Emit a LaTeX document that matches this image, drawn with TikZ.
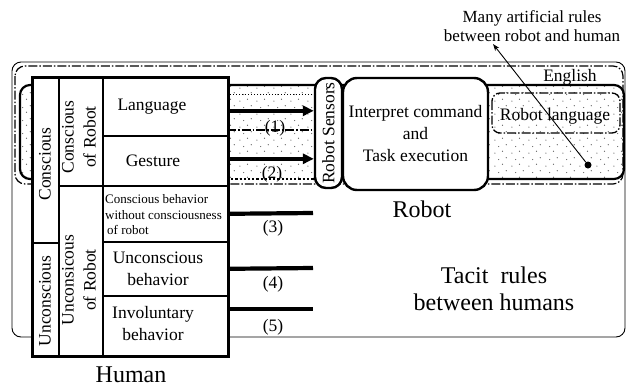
\documentclass[tikz,border=0pt]{standalone}
\usepackage{fontspec}
\setmainfont{Liberation Serif}
\usetikzlibrary{arrows.meta,patterns.meta,calc}

% sparse halftone dots for the shared interaction area
\tikzdeclarepattern{
  name=sparsedots, type=uncolored,
  bounding box={(0pt,0pt) and (17pt,13pt)},
  tile size={(17pt,13pt)},
  code={\fill (2pt,2pt) circle (0.65pt);
        \fill (10pt,4pt) circle (0.65pt);
        \fill (6pt,9pt) circle (0.65pt);
        \fill (14pt,11pt) circle (0.65pt);}
}

\begin{document}
\begin{tikzpicture}[x=1pt,y=-1pt,
  font=\fontsize{17.5}{22}\selectfont,
  cell/.style={draw, line width=1.6pt, anchor=north west, inner sep=0pt, fill=white},
  rlabel/.style={rotate=90, align=center, inner sep=0pt},
  txt/.style={align=center, inner sep=0pt},
  big/.style={font=\fontsize{24}{27}\selectfont},
  small/.style={font=\fontsize{13}{15.5}\selectfont},
  dashdot/.style={dash pattern=on 9pt off 2pt on 1.5pt off 2pt},
  robobox/.style={draw, line width=2.4pt, fill=white, inner sep=0pt, align=center},
  flow/.style={line width=3.6pt, -{Triangle[length=11pt,width=10pt]}},
  stub/.style={line width=4.2pt},
  ]
\useasboundingbox (0,0) rectangle (627,389);

% tacit rules between humans: outer frame
\draw[line width=0.9pt, rounded corners=9pt] (12,62) rectangle (625,337);
% English region
\draw[line width=1.2pt, dashdot, rounded corners=10pt] (15,66) rectangle (623,184);

% interaction area (halftone fill and its border)
\fill[pattern=sparsedots, pattern color=black!65, rounded corners=10pt] (20,85) rectangle (624,179);
\draw[line width=2.2pt, rounded corners=10pt]
  (227,179) -- (20,179) -- (20,85) -- (624,85) -- (624,179) -- (313,179);
\draw[line width=2.2pt, dotted] (227,179) -- (313,179);
% guide lines of the robot language band between human and sensors
\draw[line width=1pt, dotted] (227,94) -- (313,94);
\draw[line width=1.1pt, dashdot] (227,130) -- (313,130);

% robot language
\draw[line width=1.3pt, dashdot, rounded corners=8pt] (492,93) rectangle (620,133);
\node[txt] (rlang) at (555,116) {Robot language};
\node[txt] (eng) at (570,77) {English};

% human table
\node[cell, minimum width=26pt, minimum height=165pt] (c1a) at (32,77) {};
\node[cell, minimum width=26pt, minimum height=113pt] (c1b) at (32,242) {};
\node[cell, minimum width=44pt, minimum height=108pt] (c2a) at (58,77) {};
\node[cell, minimum width=44pt, minimum height=170pt] (c2b) at (58,185) {};
\node[cell, minimum width=125pt, minimum height=58pt] (lang) at (102,77) {};
\node[cell, minimum width=125pt, minimum height=50pt] (gest) at (102,135) {};
\node[cell, minimum width=125pt, minimum height=56pt] (cb) at (102,185) {};
\node[cell, minimum width=125pt, minimum height=54pt] (ub) at (102,241) {};
\node[cell, minimum width=125pt, minimum height=60pt] (ib) at (102,295) {};
\draw[line width=3pt] (c1a.north west) rectangle (ib.south east);

\node[rlabel] (tc1a) at (45,164) {Conscious};
\node[rlabel] (tc1b) at (45,301) {Unconscious};
\node[rlabel] (tc2a) at (79,137) {Conscious\\of Robot};
\node[rlabel] (tc2b) at (79,280) {Unconsicous\\of Robot};
\node[txt] (tlang) at (152,107) {Language};
\node[txt] (tgest) at (153,161) {Gesture};
\node[small, align=left, inner sep=0pt, anchor=west] (tcb) at (105,215)
  {Conscious behavior\\without consciousness\\\hspace{2pt}of robot};
\node[txt] (tub) at (158,269) {Unconscious\\behavior};
\node[txt] (tib) at (153,324) {Involuntary\\behavior};

% robot
\node[robobox, rotate=90, minimum width=110pt, minimum height=27pt, rounded corners=11pt]
  (sens) at (328.5,133) {Robot Sensors};
\node[robobox, minimum width=145pt, minimum height=112pt, rounded corners=14pt]
  (interp) at (415.5,134) {Interpret command\\and\\Task execution};

% channels from human to robot
\coordinate (s1) at ($(lang.east)+(0,4)$);
\coordinate (s2) at ($(gest.east)+(0,-2)$);
\draw[flow] (s1) -- (sens.north |- s1);
\draw[flow] (s2) -- (sens.north |- s2);
\coordinate (e3) at (313,213);
\coordinate (e4) at (313,268);
\coordinate (e5) at (313,309);
\draw[stub] (cb.east) -- (e3);
\draw[stub] (ub.east) -- (e4);
\draw[stub] (ib.east |- e5) -- (e5);
\node[txt] (n1) at (275,128) {(1)};
\node[txt] (n2) at (272,174) {(2)};
\node[txt] (n3) at (273,228) {(3)};
\node[txt] (n4) at (273,284) {(4)};
\node[txt] (n5) at (273,327) {(5)};

% captions
\node[txt, big] (human) at (131,375) {Human};
\node[txt, big] (robot) at (422,209) {Robot};
\node[txt, big] (tacit) at (494,289) {Tacit\ \ rules\\between humans};

% artificial rules annotation
\node[txt, font=\fontsize{17}{19}\selectfont] (note) at (532,26) {Many artificial rules\\between robot and human};
\node[circle, fill, inner sep=0pt, minimum size=7pt] (rdot) at (588,165) {};
\coordinate (ptr) at (493,44);
\draw[line width=0.9pt, -{Stealth[length=7pt,width=5pt]}] (rdot) -- (ptr);
\end{tikzpicture}
\end{document}
